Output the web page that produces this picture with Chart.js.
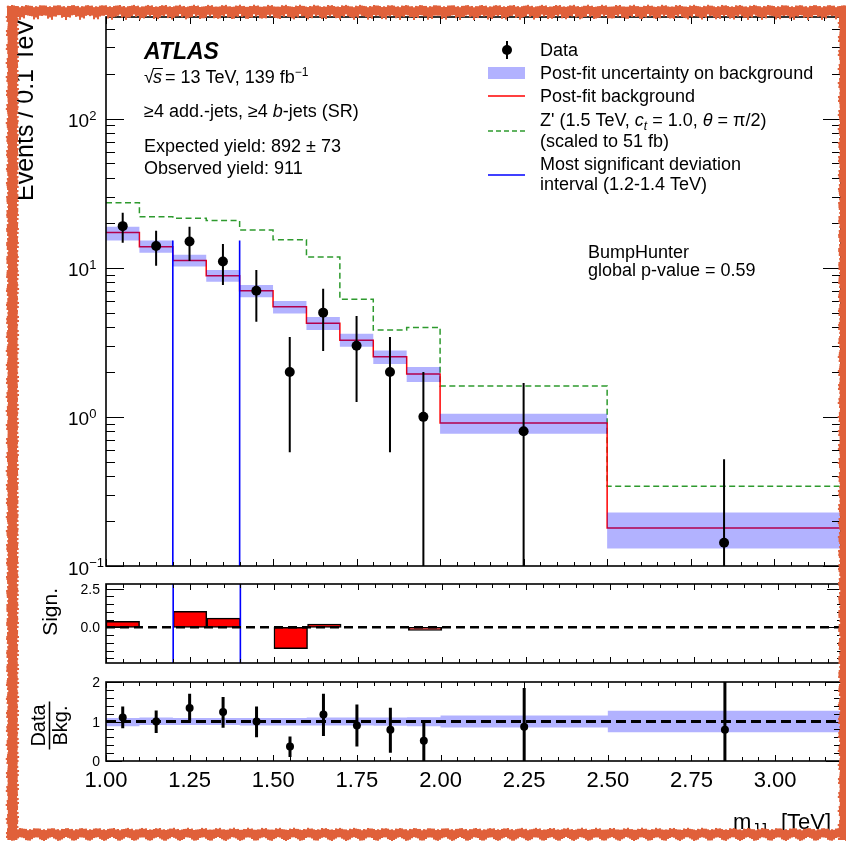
<!DOCTYPE html>
<html>
<head>
<meta charset="utf-8">
<title>mJJ BumpHunter</title>
<script src="https://cdn.jsdelivr.net/npm/chart.js@4.4.1/dist/chart.umd.min.js"></script>
<style>
  html, body { margin: 0; padding: 0; background: #fff; }
  #wrap { position: relative; width: 846px; height: 841px; overflow: hidden; background: #fff; }
  #wrap canvas { position: absolute; left: 0; }
</style>
</head>
<body>
<div id="wrap">
  <canvas id="mainPlot" width="846" height="575" style="top:0"></canvas>
  <canvas id="signPlot" width="846" height="100" style="top:575px"></canvas>
  <canvas id="ratioPlot" width="846" height="166" style="top:675px"></canvas>
  <canvas id="border" width="846" height="841" style="top:0"></canvas>
</div>
<script>
const FONT = '"Liberation Sans", Arial, Helvetica, sans-serif';

// binning in TeV
const binEdges = [1.0, 1.1, 1.2, 1.3, 1.4, 1.5, 1.6, 1.7, 1.8, 1.9, 2.0, 2.5, 3.2];
const binCenters = [1.05, 1.15, 1.25, 1.35, 1.45, 1.55, 1.65, 1.75, 1.85, 1.95, 2.25, 2.85];

// events / 0.1 TeV
const observed = [19, 14, 15, 11, 7, 2, 5, 3, 2, 1, 0.8, 0.143];
const observedHigh = [23.4, 17.7, 18.8, 14.4, 9.66, 3.43, 7.23, 4.74, 3.43, 2.0, 1.69, 0.52];
const observedLow = [14.7, 10.3, 11.1, 7.65, 4.34, 0.58, 2.76, 1.26, 0.58, 0, 0, 0];
const background = [17.2, 13.8, 11.2, 8.84, 7.0, 5.47, 4.24, 3.27, 2.53, 1.94, 0.91, 0.18];
const backgroundHigh = [18.8, 15.2, 12.2, 9.66, 7.65, 5.98, 4.67, 3.61, 2.79, 2.16, 1.05, 0.228];
const backgroundLow = [15.2, 12.6, 10.2, 8.05, 6.33, 4.94, 3.82, 2.95, 2.26, 1.71, 0.77, 0.131];
const zPrime = [27.3, 22.0, 21.5, 20.7, 17.9, 15.4, 11.8, 6.14, 3.82, 3.98, 1.61, 0.343];

// most significant deviation interval
const intervalEdges = [1.2, 1.4];
const intervalTop = 15.2;

// significance panel
const significance = [0.39, 0, 1.03, 0.60, 0, -1.37, 0.22, 0, 0, -0.19, 0, 0];
const sigMin = -2.3, sigMax = 2.8;

// data / background panel
const ratio = [1.10, 1.0, 1.34, 1.24, 1.0, 0.37, 1.18, 0.90, 0.79, 0.51, 0.87, 0.79];
const ratioHigh = [1.38, 1.28, 1.70, 1.62, 1.38, 0.62, 1.70, 1.43, 1.35, 1.0, 1.85, 2.9];
const ratioLow = [0.83, 0.71, 1.0, 0.84, 0.60, 0.10, 0.63, 0.37, 0.21, 0, 0, 0];
const ratioBandHigh = [1.09, 1.10, 1.09, 1.09, 1.09, 1.09, 1.10, 1.10, 1.10, 1.11, 1.15, 1.27];
const ratioBandLow = [0.88, 0.91, 0.91, 0.91, 0.90, 0.90, 0.90, 0.90, 0.89, 0.88, 0.85, 0.73];

// tick labels
const xTickValues = [1.0, 1.25, 1.5, 1.75, 2.0, 2.25, 2.5, 2.75, 3.0];
const xTickLabels = ['1.00', '1.25', '1.50', '1.75', '2.00', '2.25', '2.50', '2.75', '3.00'];
const yMainTickValues = [0.1, 1, 10, 100];
const yMainTickExponents = ['\u22121', '0', '1', '2'];
const sigTickValues = [2.5, 0];
const sigTickLabels = ['2.5', '0.0'];
const ratioTickValues = [2, 1, 0];
const ratioTickLabels = ['2', '1', '0'];

const BAND = 'rgba(0, 0, 255, 0.3)';
const GREEN = '#2e9a2e';

function stepPoints(values) {
  const pts = values.map((v, i) => ({ x: binEdges[i], y: v }));
  pts.push({ x: binEdges[binEdges.length - 1], y: values[values.length - 1] });
  return pts;
}

function errorBars(low, high, floor) {
  const pts = [];
  binCenters.forEach((x, i) => {
    pts.push({ x, y: Math.max(low[i], floor) }, { x, y: high[i] }, { x, y: null });
  });
  return pts;
}

function verticals(xs, bottom, top) {
  const pts = [];
  xs.forEach(x => pts.push({ x, y: bottom }, { x, y: top }, { x, y: null }));
  return pts;
}

function linTicks(from, to, step, majors, majorLen, minorLen) {
  const out = [];
  for (let v = from; v <= to + 1e-9; v += step) {
    const r = Math.round(v * 1000) / 1000;
    out.push([r, majors.some(m => Math.abs(m - r) < 1e-6) ? majorLen : minorLen]);
  }
  return out;
}

function logTicks(min, max, majorLen, minorLen) {
  const out = [];
  for (let d = min; d <= max; d *= 10) {
    for (let k = 1; k <= 9; k++) {
      if (k * d <= max) out.push([k * d, k === 1 ? majorLen : minorLen]);
    }
  }
  return out;
}

// ROOT-like frame with inward ticks on all four sides
function frameTicks(xTicks, yTicks) {
  return {
    id: 'frameTicks',
    afterDatasetsDraw(chart) {
      const { ctx, chartArea: a } = chart;
      const sx = chart.scales.x, sy = chart.scales.y;
      ctx.save();
      ctx.strokeStyle = '#000';
      ctx.lineWidth = 1;
      ctx.beginPath();
      xTicks.forEach(([v, len]) => {
        const px = Math.round(sx.getPixelForValue(v)) + 0.5;
        ctx.moveTo(px, a.bottom); ctx.lineTo(px, a.bottom - len);
        ctx.moveTo(px, a.top); ctx.lineTo(px, a.top + len);
      });
      yTicks.forEach(([v, len]) => {
        const py = Math.round(sy.getPixelForValue(v)) + 0.5;
        ctx.moveTo(a.left, py); ctx.lineTo(a.left + len, py);
        ctx.moveTo(a.right, py); ctx.lineTo(a.right - len, py);
      });
      ctx.stroke();
      ctx.lineWidth = 1.6;
      ctx.strokeRect(a.left, a.top, a.right - a.left, a.bottom - a.top);
      ctx.restore();
    }
  };
}

// draws a run of text pieces: [text, size, style, dy]
function rich(ctx, x, y, parts) {
  let cx = x;
  parts.forEach(([t, size, style, dy]) => {
    ctx.font = `${style || ''} ${size}px ${FONT}`;
    ctx.fillText(t, cx, y + (dy || 0));
    cx += ctx.measureText(t).width;
  });
  return cx;
}

function baseOptions(yScale, padding) {
  return {
    responsive: false,
    animation: false,
    devicePixelRatio: 1,
    events: [],
    layout: { padding },
    plugins: { legend: { display: false }, tooltip: { enabled: false } },
    scales: {
      x: { type: 'linear', min: 1.0, max: 3.2, display: false, offset: false },
      y: Object.assign({ display: false }, yScale)
    }
  };
}

const xTicksMain = linTicks(1.0, 3.2, 0.05, xTickValues, 7, 4);
const xTicksSub = linTicks(1.0, 3.2, 0.05, xTickValues, 6, 4);

// ---------- main panel ----------
const mainText = {
  id: 'mainText',
  afterDraw(chart) {
    const ctx = chart.ctx;
    const sy = chart.scales.y;
    ctx.save();
    ctx.fillStyle = '#000';
    ctx.textAlign = 'left';
    ctx.textBaseline = 'alphabetic';

    // y tick labels
    yMainTickValues.forEach((v, i) => {
      const py = sy.getPixelForValue(v);
      rich(ctx, 68, py + 8.5, [['10', 19], [yMainTickExponents[i], 13, '', -7.5]]);
    });

    // ATLAS block
    ctx.font = `italic bold 23px ${FONT}`;
    ctx.fillText('ATLAS', 144, 59);
    let x = rich(ctx, 144, 82.5, [['\u221a', 18]]);
    const sEnd = rich(ctx, x - 1, 82.5, [['s', 18, 'italic']]);
    ctx.strokeStyle = '#000';
    ctx.lineWidth = 1;
    ctx.beginPath(); ctx.moveTo(x - 1, 68.5); ctx.lineTo(sEnd + 1, 68.5); ctx.stroke();
    x = rich(ctx, sEnd + 3, 82.5, [['= 13 TeV, 139 fb', 18]]);
    rich(ctx, x, 82.5, [['\u22121', 12, '', -7]]);
    rich(ctx, 144, 117, [['\u22654 add.-jets, \u22654 ', 18], ['b', 18, 'italic'], ['-jets (SR)', 18]]);
    rich(ctx, 144, 151.5, [['Expected yield: 892 \u00b1 73', 18]]);
    rich(ctx, 144, 173.5, [['Observed yield: 911', 18]]);

    // BumpHunter
    rich(ctx, 588, 258, [['BumpHunter', 18]]);
    rich(ctx, 588, 276, [['global p-value = 0.59', 18]]);

    // legend
    ctx.lineWidth = 2;
    ctx.beginPath(); ctx.moveTo(507, 41); ctx.lineTo(507, 59); ctx.stroke();
    ctx.beginPath(); ctx.arc(507, 50, 5, 0, Math.PI * 2); ctx.fill();
    ctx.fillStyle = BAND;
    ctx.fillRect(488, 67, 37, 12);
    ctx.fillStyle = '#000';
    ctx.lineWidth = 1.5;
    ctx.strokeStyle = '#ff0000';
    ctx.beginPath(); ctx.moveTo(488, 96); ctx.lineTo(525, 96); ctx.stroke();
    ctx.strokeStyle = GREEN;
    ctx.setLineDash([5, 3]);
    ctx.beginPath(); ctx.moveTo(488, 131); ctx.lineTo(525, 131); ctx.stroke();
    ctx.setLineDash([]);
    ctx.strokeStyle = '#0000ff';
    ctx.beginPath(); ctx.moveTo(488, 175); ctx.lineTo(525, 175); ctx.stroke();

    rich(ctx, 540, 56, [['Data', 18]]);
    rich(ctx, 540, 78.5, [['Post-fit uncertainty on background', 18]]);
    rich(ctx, 540, 101.5, [['Post-fit background', 18]]);
    rich(ctx, 540, 125.5, [["Z' (1.5 TeV, ", 18], ['c', 18, 'italic'], ['t', 12, 'italic', 4],
      [' = 1.0, ', 18], ['\u03b8', 18, 'italic'], [' = \u03c0/2)', 18]]);
    rich(ctx, 540, 146.5, [['(scaled to 51 fb)', 18]]);
    rich(ctx, 540, 169.5, [['Most significant deviation', 18]]);
    rich(ctx, 540, 190, [['interval (1.2-1.4 TeV)', 18]]);

    // y title
    ctx.translate(33, 19);
    ctx.rotate(-Math.PI / 2);
    ctx.textAlign = 'right';
    ctx.font = `25px ${FONT}`;
    ctx.fillText('Events / 0.1 TeV', 0, 0);
    ctx.restore();
  }
};

new Chart(document.getElementById('mainPlot'), {
  type: 'line',
  data: {
    datasets: [
      { data: observed.map((v, i) => ({ x: binCenters[i], y: v })), showLine: false,
        pointRadius: 5, pointBackgroundColor: '#000', pointBorderWidth: 0, order: 0 },
      { data: errorBars(observedLow, observedHigh, 0.01), borderColor: '#000', borderWidth: 2,
        pointRadius: 0, order: 1 },
      { data: verticals(intervalEdges, 0.01, intervalTop), borderColor: '#0000ff', borderWidth: 1.6,
        pointRadius: 0, order: 2 },
      { data: stepPoints(backgroundHigh), stepped: true, borderColor: 'transparent', borderWidth: 0,
        pointRadius: 0, fill: '+1', backgroundColor: BAND, order: 3 },
      { data: stepPoints(backgroundLow), stepped: true, borderColor: 'transparent', borderWidth: 0,
        pointRadius: 0, fill: false, order: 3 },
      { data: stepPoints(background), stepped: true, borderColor: '#ff0000', borderWidth: 1.5,
        pointRadius: 0, order: 4 },
      { data: stepPoints(zPrime), stepped: true, borderColor: GREEN, borderWidth: 1.5,
        borderDash: [6, 3.5], pointRadius: 0, order: 5 }
    ]
  },
  options: baseOptions({ type: 'logarithmic', min: 0.1, max: 480 }, { left: 106, right: 1, top: 17, bottom: 9 }),
  plugins: [frameTicks(xTicksMain, logTicks(0.1, 480, 18, 9)), mainText]
});

// ---------- significance panel ----------
const signText = {
  id: 'signText',
  afterDraw(chart) {
    const ctx = chart.ctx;
    const sy = chart.scales.y;
    ctx.save();
    ctx.fillStyle = '#000';
    ctx.textAlign = 'right';
    ctx.textBaseline = 'alphabetic';
    ctx.font = `14px ${FONT}`;
    sigTickValues.forEach((v, i) => ctx.fillText(sigTickLabels[i], 100, sy.getPixelForValue(v) + 5));
    ctx.translate(57, chart.chartArea.top + 4);
    ctx.rotate(-Math.PI / 2);
    ctx.font = `21px ${FONT}`;
    ctx.fillText('Sign.', 0, 0);
    ctx.restore();
  }
};

new Chart(document.getElementById('signPlot'), {
  type: 'bar',
  data: {
    datasets: [
      { type: 'line', data: [{ x: 1.0, y: 0 }, { x: 3.2, y: 0 }], borderColor: '#000', borderWidth: 2.5,
        borderDash: [9, 5], pointRadius: 0, order: 0 },
      { type: 'line', data: verticals(intervalEdges, sigMin, sigMax), borderColor: '#0000ff', borderWidth: 1.6,
        pointRadius: 0, order: 1 },
      { data: significance.map((v, i) => ({ x: binCenters[i], y: v })), backgroundColor: '#ff0000',
        borderColor: '#000', borderWidth: 1.5, borderSkipped: false,
        barPercentage: 1, categoryPercentage: 1, order: 2 }
    ]
  },
  options: baseOptions({ type: 'linear', min: sigMin, max: sigMax }, { left: 106, right: 1, top: 9, bottom: 12 }),
  plugins: [frameTicks(xTicksSub, linTicks(-2, 2.5, 0.5, sigTickValues, 18, 8)), signText]
});

// ---------- data / background panel ----------
const ratioText = {
  id: 'ratioText',
  afterDraw(chart) {
    const ctx = chart.ctx;
    const a = chart.chartArea;
    const sx = chart.scales.x, sy = chart.scales.y;
    ctx.save();
    ctx.fillStyle = '#000';
    ctx.textBaseline = 'alphabetic';
    ctx.textAlign = 'right';
    ctx.font = `14px ${FONT}`;
    ratioTickValues.forEach((v, i) => ctx.fillText(ratioTickLabels[i], 100, sy.getPixelForValue(v) + 5));

    ctx.textAlign = 'center';
    ctx.font = `22px ${FONT}`;
    xTickValues.forEach((v, i) => ctx.fillText(xTickLabels[i], sx.getPixelForValue(v), a.bottom + 26));

    // x title
    ctx.textAlign = 'left';
    rich(ctx, 733, a.bottom + 68, [['m', 22]]);
    rich(ctx, 752, a.bottom + 72, [['JJ', 15]]);
    rich(ctx, 781, a.bottom + 68, [['[TeV]', 22]]);

    // y title as fraction
    const mid = (a.top + a.bottom) / 2 + 4;
    ctx.strokeStyle = '#000';
    ctx.lineWidth = 1.5;
    ctx.beginPath(); ctx.moveTo(49.5, mid - 24); ctx.lineTo(49.5, mid + 24); ctx.stroke();
    ctx.font = `20px ${FONT}`;
    ctx.textAlign = 'center';
    ctx.save();
    ctx.translate(45, mid); ctx.rotate(-Math.PI / 2); ctx.fillText('Data', 0, 0);
    ctx.restore();
    ctx.translate(67, mid); ctx.rotate(-Math.PI / 2); ctx.fillText('Bkg.', 0, 0);
    ctx.restore();
  }
};

new Chart(document.getElementById('ratioPlot'), {
  type: 'line',
  data: {
    datasets: [
      { data: ratio.map((v, i) => ({ x: binCenters[i], y: v })), showLine: false,
        pointRadius: 4, pointBackgroundColor: '#000', pointBorderWidth: 0, order: 0 },
      { data: errorBars(ratioLow, ratioHigh, 0), borderColor: '#000', borderWidth: 3,
        pointRadius: 0, order: 1 },
      { data: [{ x: 1.0, y: 1 }, { x: 3.2, y: 1 }], borderColor: '#000', borderWidth: 3,
        borderDash: [10, 5], pointRadius: 0, order: 2 },
      { data: stepPoints(ratioBandHigh), stepped: true, borderColor: 'transparent', borderWidth: 0,
        pointRadius: 0, fill: '+1', backgroundColor: BAND, order: 3 },
      { data: stepPoints(ratioBandLow), stepped: true, borderColor: 'transparent', borderWidth: 0,
        pointRadius: 0, fill: false, order: 3 }
    ]
  },
  options: baseOptions({ type: 'linear', min: 0, max: 2 }, { left: 106, right: 1, top: 7, bottom: 80 }),
  plugins: [frameTicks(xTicksSub, linTicks(0, 2, 0.2, ratioTickValues, 16, 8)), ratioText]
});

// ---------- hand-drawn orange border ----------
(function drawBorder() {
  const b = document.getElementById('border').getContext('2d');
  b.fillStyle = '#e0603a';
  const wob = k => 1.3 * Math.sin(k * 0.83) + 0.9 * Math.sin(k * 2.71 + 1.3);
  for (let t = 7; t < 846; t += 2) {
    const k = t / 2;
    b.fillRect(t, 6 + wob(k) * 0.6, 2, 11 + wob(k + 7) * 0.8);
    b.fillRect(t, 829 + wob(k + 3) * 0.6, 2, 10 + wob(k + 11) * 0.8);
  }
  for (let t = 6; t < 840; t += 2) {
    const k = t / 2;
    b.fillRect(7 + wob(k + 5) * 0.6, t, 11 + wob(k + 9) * 0.8, 2);
    b.fillRect(839 + wob(k + 2) * 0.6, t, 12, 2);
  }
})();
</script>
</body>
</html>
